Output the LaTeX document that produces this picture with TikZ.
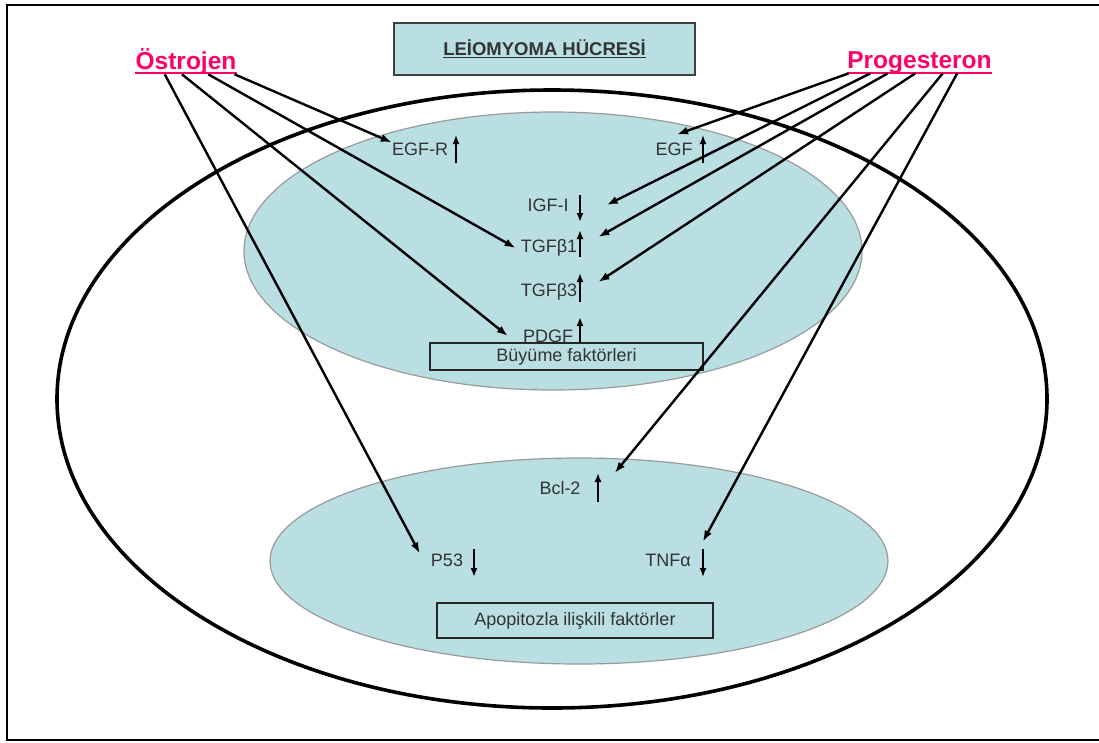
\documentclass[tikz,border=0pt]{standalone}
\usepackage{fontspec}
\setmainfont{Liberation Sans}
\usepackage{tikz}
\usetikzlibrary{arrows.meta,calc}
\definecolor{cellBlue}{HTML}{B9DFE3}
\definecolor{cellEdge}{HTML}{9A9A9A}
\definecolor{hormPink}{HTML}{FF0066}
\definecolor{labelInk}{HTML}{333333}
\tikzset{
  zone/.style={draw=cellEdge, fill=cellBlue, line width=1.2pt},
  hormone/.style={font=\fontsize{24.5}{28}\selectfont\bfseries, text=hormPink, inner sep=0pt},
  hormline/.style={draw=hormPink, line width=2pt},
  factor/.style={font=\fontsize{18}{21}\selectfont, text=labelInk, inner sep=0pt},
  groupbox/.style={draw=black!85, line width=1.3pt, font=\fontsize{18}{21}\selectfont, text=labelInk},
  effect/.style={-{Latex[length=11pt,width=8pt]}, line width=2.4pt},
  levelThick/.style={-{Latex[length=9pt,width=7pt]}, line width=2.6pt},
  levelThin/.style={-{Latex[length=9pt,width=7pt]}, line width=1.6pt}
}

\begin{document}
\begin{tikzpicture}[x=1pt, y=-1pt]
\useasboundingbox (0,0) rectangle (1099,742);
% frame
\draw[line width=2.2pt] (1110,5) -- (7,5) -- (7,740) -- (1110,740);
% cell and the two compartments
\draw[line width=3.6pt] (552,399) ellipse [x radius=495, y radius=309];
\filldraw[zone] (553,251) ellipse [x radius=309, y radius=139];
\filldraw[zone] (579,561) ellipse [x radius=309, y radius=103];

\node[draw=black!75, fill=cellBlue, line width=1.8pt, minimum width=301pt, minimum height=52pt,
      font=\fontsize{18.5}{22}\selectfont\bfseries, text=labelInk] (title) at (544.5,49) {\underline{LEİOMYOMA HÜCRESİ}};

\node[hormone, anchor=base] (ostro) at (186,69) {Östrojen};
\node[hormone, anchor=base] (proge) at (919.5,68) {Progesteron};
\draw[hormline] ([yshift=-4pt]ostro.base west) -- ([yshift=-4pt]ostro.base east);
\draw[hormline] ([yshift=-5pt]proge.base west) -- ([yshift=-5pt]proge.base east);

% growth factors
\node[factor] (egfr) at (420,149) {EGF-R};
\node[factor] (egf) at (674,149) {EGF};
\node[factor] (igf) at (548,205) {IGF-I};
\node[factor] (tgfb1) at (549,248) {TGFβ1};
\node[factor] (tgfb3) at (549,292) {TGFβ3};
\node[factor] (pdgf) at (548,336) {PDGF};
\node[groupbox, minimum width=273pt, minimum height=27pt] (growth) at (566.5,356.5) {Büyüme faktörleri};

% apoptosis factors
\node[factor] (bcl) at (560,488) {Bcl-2};
\node[factor] (p53) at (447,560) {P53};
\node[factor] (tnf) at (668,560) {TNFα};
\node[groupbox, minimum width=276pt, minimum height=35pt] (apop) at (575,620.5) {Apopitozla ilişkili faktörler};

% up / down markers
\foreach \x/\ya/\yb in {580/195/222, 580/257/230, 580/302/273, 580/343/317, 474/549/577}
  \draw[levelThick] (\x,\ya) -- (\x,\yb);
\foreach \x/\ya/\yb in {456/163/135, 703/163/135, 598/502/473, 703/549/577}
  \draw[levelThin] (\x,\ya) -- (\x,\yb);

% estrogen effects
\draw[effect] ($(ostro.south west)!0.98!(ostro.south east)$) -- (egfr.north west);
\draw[effect] ($(ostro.south west)!0.72!(ostro.south east)$) -- ([xshift=-5pt]tgfb1.west);
\draw[effect] ($(ostro.south west)!0.46!(ostro.south east)$) -- ([xshift=-15pt]pdgf.west);
\draw[effect] ($(ostro.south west)!0.29!(ostro.south east)$) -- ([xshift=-11pt]p53.north west);

% progesterone effects
\draw[effect] ($(proge.south west)!0.01!(proge.south east)$) -- ([yshift=8pt,xshift=3pt]egf.north);
\draw[effect] ($(proge.south west)!0.16!(proge.south east)$) -- ([xshift=38pt]igf.east);
\draw[effect] ($(proge.south west)!0.28!(proge.south east)$) -- ([xshift=21pt,yshift=11pt]tgfb1.east);
\draw[effect] ($(proge.south west)!0.47!(proge.south east)$) -- ([xshift=21pt,yshift=10pt]tgfb3.east);
\draw[effect] ($(proge.south west)!0.66!(proge.south east)$) -- ([xshift=34pt,yshift=15pt]bcl.east);
\draw[effect] ($(proge.south west)!0.76!(proge.south east)$) -- ([xshift=12pt,yshift=12pt]tnf.north east);
\end{tikzpicture}
\end{document}
